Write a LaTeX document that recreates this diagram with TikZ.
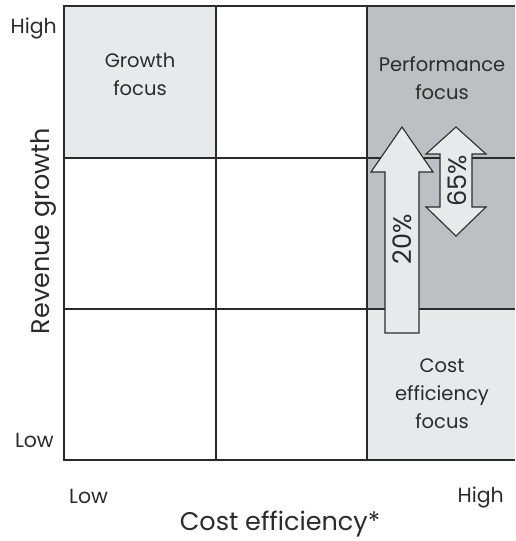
\documentclass[tikz,border=0pt]{standalone}
\usepackage{fontspec}
\setmainfont{Poppins}
\definecolor{lightcell}{HTML}{E8E9EB}
\definecolor{darkcell}{HTML}{BEBFC2}
\definecolor{inkgray}{HTML}{2B2B2B}

\begin{document}
\begin{tikzpicture} [
  x=1pt, y=-1pt,
  every node/.style={inner sep=0pt, text=inkgray},
  celltext/.style={font=\fontsize{19.5}{28}\selectfont, align=center},
  tick/.style={font=\fontsize{20.5}{24}\selectfont},
  axistitle/.style={font=\fontsize{25.5}{30}\selectfont},
  pct/.style={font=\fontsize{25.5}{30}\selectfont, rotate=90},
  gridline/.style={draw=inkgray, line width=1.1pt},
  bigarrow/.style={fill=lightcell, draw=inkgray, line width=1.1pt, line join=miter}
  ]
  \useasboundingbox (0,0) rectangle (515,541);

  % shaded cells
  \fill[lightcell] (64,6) rectangle (216,158);
  \fill[darkcell] (367,6) rectangle (515,309);
  \fill[lightcell] (367,309) rectangle (515,460);

  % grid
  \draw[gridline] (515,6) -- (64,6) -- (64,460) -- (515,460);
  \foreach \x in {216,367}
    \draw[gridline] (\x,6) -- (\x,460);
  \foreach \y in {158,309}
    \draw[gridline] (64,\y) -- (515,\y);

  % arrows
  \draw[bigarrow] (385,333) -- (385,172) -- (371,172) -- (402,127)
    -- (433,172) -- (419,172) -- (419,333) -- cycle;
  \draw[bigarrow] (440,154) -- (426,154) -- (456,127) -- (486,154)
    -- (472,154) -- (472,207) -- (486,207) -- (456,236) -- (426,207)
    -- (440,207) -- cycle;

  % cell labels
  \node (growth) [celltext] at (140,74) {Growth\\focus};
  \node (perf) [celltext] at (442,78) {Performance\\focus};
  \node (cost) [celltext] at (442,394) {Cost\\efficiency\\focus};

  \node (up) [pct] at (402,239) {20\%};
  \node (updown) [pct] at (457,181) {65\%};

  % axes
  \node (yhigh) [tick, anchor=base east] at (57,33) {High};
  \node (ylow) [tick, anchor=base east] at (54,447) {Low};
  \node (xlow) [tick, anchor=base west] at (69,503) {Low};
  \node (xhigh) [tick, anchor=base east] at (504,502) {High};
  \node (xtitle) [axistitle, anchor=base] at (280,530) {Cost efficiency*};
  \node (ytitle) [axistitle, rotate=90, anchor=base] at (49,231) {Revenue growth};
\end{tikzpicture}
\end{document}
